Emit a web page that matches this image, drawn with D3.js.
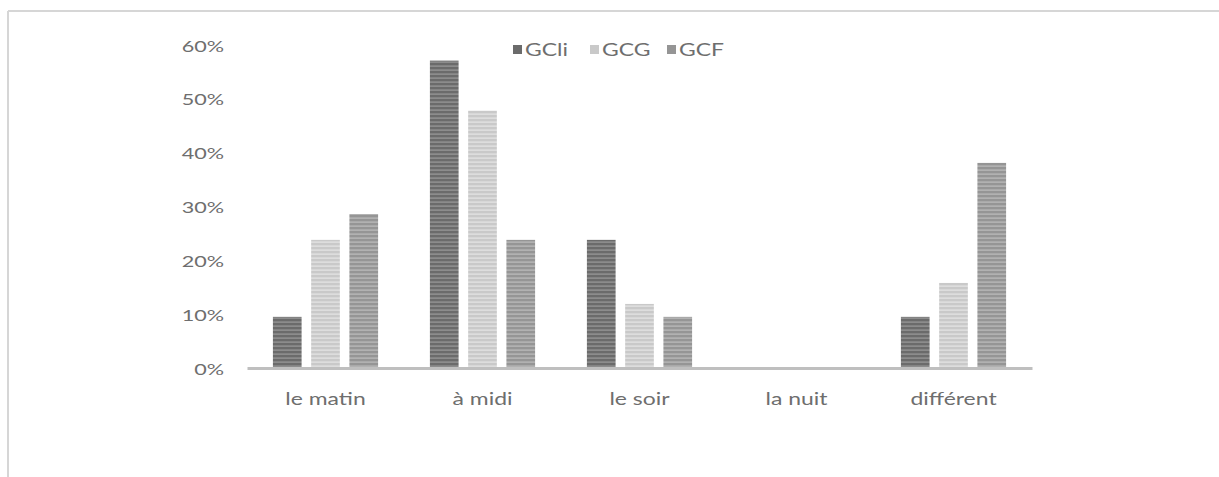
<!DOCTYPE html>
<html><head><meta charset="utf-8">
<script src="https://cdn.jsdelivr.net/npm/d3@7"></script>
<style>
html,body{margin:0;padding:0;background:#fff;}
svg{display:block;font-family:Lato, "Open Sans", sans-serif;}
</style></head>
<body><svg id="c" width="1219" height="477"></svg>
<script>
const categories = ["le matin", "à midi", "le soir", "la nuit", "différent"];
const seriesNames = ["GCli", "GCG", "GCF"];
const GCli = [9.5, 57.1, 23.8, 0, 9.5];
const GCG = [23.8, 47.8, 11.9, 0, 15.8];
const GCF = [28.6, 23.8, 9.5, 0, 38.1];
const yTicks = [0, 10, 20, 30, 40, 50, 60];
const seriesValues = [GCli, GCG, GCF];
const baseColors = ["#6b6b6b", "#c9c9c9", "#959595"];
const lineColors = ["#9a9a9a", "#e6e6e6", "#bdbdbd"];
const SX = 1.35;

const svg = d3.select("#c");

// frame
svg.append("line").attr("x1",8).attr("x2",1219).attr("y1",11).attr("y2",11).attr("stroke","#d6d6d6").attr("stroke-width",2);
svg.append("line").attr("x1",8).attr("x2",8).attr("y1",11).attr("y2",477).attr("stroke","#d6d6d6").attr("stroke-width",2);

// patterns
const defs = svg.append("defs");
seriesNames.forEach((s,i)=>{
  const p = defs.append("pattern").attr("id","pat"+i).attr("patternUnits","userSpaceOnUse")
    .attr("width",8).attr("height",4);
  p.append("rect").attr("width",8).attr("height",4).attr("fill",baseColors[i]);
  p.append("rect").attr("y",1.5).attr("width",8).attr("height",1.2).attr("fill",lineColors[i]);
});

const x0 = d3.scaleBand().domain(categories).range([247,1032]).paddingInner(0.33).paddingOuter(0.165);
const x1 = d3.scaleBand().domain(seriesNames).range([0,x0.bandwidth()]).paddingInner(0.25);
const y = d3.scaleLinear().domain([0,60]).range([368,45]);

// y axis labels
const yAxis = d3.axisLeft(y).tickValues(yTicks).tickFormat(d=>d+"%").tickSize(0).tickPadding(0);
const ga = svg.append("g").attr("transform","translate(224,1)").call(yAxis);
ga.select(".domain").remove();
ga.selectAll("text").attr("fill","#6e6e6e").attr("transform",`scale(${SX},1)`)
  .style("font-size","16px").style("font-family","Lato, 'Open Sans', sans-serif");

// bars
categories.forEach((c,ci)=>{
  seriesNames.forEach((s,si)=>{
    const v = seriesValues[si][ci];
    if (v<=0) return;
    svg.append("rect").attr("x",x0(c)+x1(s)).attr("width",x1.bandwidth())
      .attr("y",y(v)).attr("height",y(0)-y(v)).attr("fill","url(#pat"+si+")");
  });
});

// x axis
const xAxis = d3.axisBottom(x0).tickSize(0).tickPadding(25);
const gx = svg.append("g").attr("transform","translate(0,368)").call(xAxis);
gx.select(".domain").attr("stroke","#bfbfbf").attr("stroke-width",3);
gx.selectAll("text").attr("fill","#6e6e6e").attr("transform",`scale(${SX},1)`)
  .style("font-size","17px").style("font-family","Lato, 'Open Sans', sans-serif");

// legend
const legX = [513, 590, 667];
seriesNames.forEach((s,i)=>{
  const g = svg.append("g").attr("transform",`translate(${legX[i]},50)`);
  g.append("rect").attr("x",0).attr("y",-5).attr("width",9).attr("height",9).attr("fill",baseColors[i]);
  g.append("text").attr("x",0).attr("y",0).attr("dy","0.35em").attr("fill","#6e6e6e")
    .attr("transform",`translate(12,0) scale(${SX},1)`)
    .style("font-size","17px").text(s);
});
</script></body></html>
